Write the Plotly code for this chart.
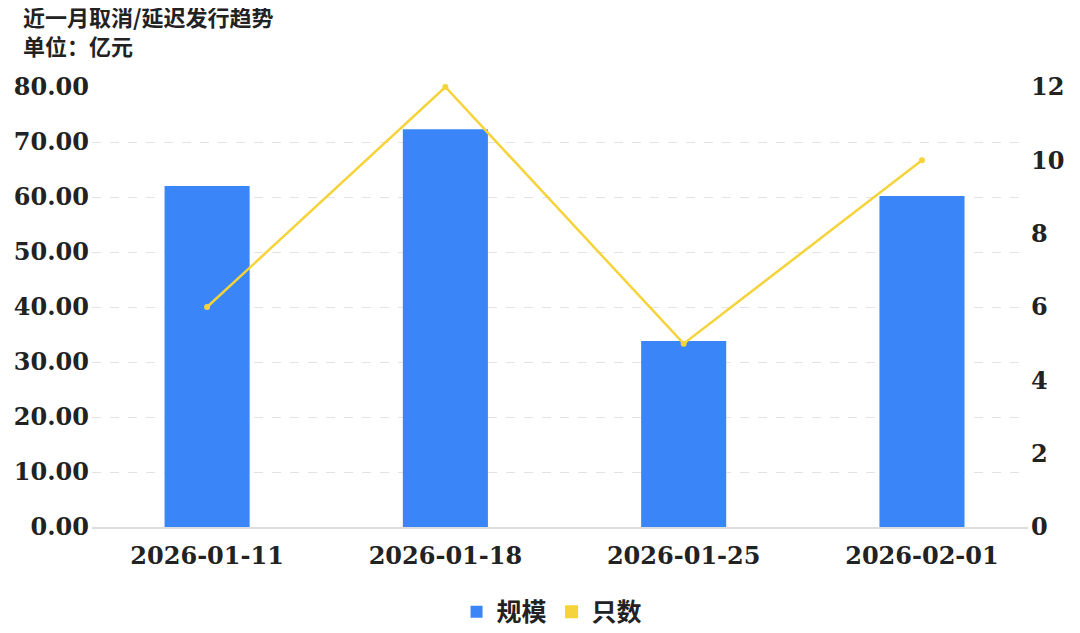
import plotly.graph_objects as go

categories = ["2026-01-11", "2026-01-18", "2026-01-25", "2026-02-01"]
scale_values = [62.0, 72.3, 33.8, 60.2]
count_values = [6, 12, 5, 10]
left_ticks = [0, 10, 20, 30, 40, 50, 60, 70, 80]
right_ticks = [0, 2, 4, 6, 8, 10, 12]

BLUE = "#3a86f8"
YELLOW = "#f5d33a"
SERIF = "DejaVu Serif, Liberation Serif, Noto Sans CJK SC, serif"
CJK = "Noto Sans CJK SC, DejaVu Serif, sans-serif"

fig = go.Figure()
fig.add_trace(go.Bar(x=list(range(len(categories))), y=scale_values, name="规模",
                     marker=dict(color=BLUE, line=dict(width=0)), width=0.357,
                     yaxis="y"))
fig.add_trace(go.Scatter(x=list(range(len(categories))), y=count_values, name="只数",
                         mode="lines+markers", line=dict(color=YELLOW, width=2.5),
                         marker=dict(color=YELLOW, size=6), yaxis="y2", showlegend=False,
                         cliponaxis=False))
fig.add_trace(go.Scatter(x=[None], y=[None], name="只数", mode="markers",
                         marker=dict(color=YELLOW, symbol="square", size=13), yaxis="y2"))

# page body has an 8px offset, margins compensate
fig.update_layout(
    width=1080, height=633,
    margin=dict(l=84, r=60, t=79, b=114, autoexpand=False),
    paper_bgcolor="white", plot_bgcolor="white",
    barmode="overlay",
    annotations=[
        dict(text="<b>近一月取消/延迟发行趋势<br>单位：亿元</b>", xref="paper", yref="paper",
             x=-0.0748, y=1.1795 + 9 / 440, xanchor="left", yanchor="top", align="left",
             showarrow=False, borderpad=0,
             font=dict(family=CJK, size=22, color="#222222")),
    ],
    xaxis=dict(range=[-0.483, 3.445], tickvals=list(range(len(categories))),
               ticktext=categories, showgrid=False, zeroline=False,
               showline=True, linecolor="#dddddd", linewidth=1.5, ticks="",
               tickfont=dict(family=SERIF, size=24, color="#222222", weight="bold"),
               ticklabelstandoff=6),
    yaxis=dict(range=[0, 80], tickvals=left_ticks,
               ticktext=[f"{v:.2f}" for v in left_ticks],
               showgrid=True, gridcolor="#e3e3e3", griddash="dash", gridwidth=1,
               zeroline=False, showline=False, ticks="",
               tickfont=dict(family=SERIF, size=24, color="#222222", weight="bold"),
               ticklabelstandoff=2),
    yaxis2=dict(range=[0, 12], tickvals=right_ticks, overlaying="y", side="right",
                showgrid=False, zeroline=False, showline=False, ticks="",
                tickfont=dict(family=SERIF, size=24, color="#222222", weight="bold"),
                ticklabelstandoff=2),
    legend=dict(orientation="h", x=0.4915, xanchor="center", y=-0.193, yanchor="middle",
                font=dict(family=CJK, size=25, color="#222222", weight="bold"),
                itemwidth=30, tracegroupgap=0),
    showlegend=True,
)

fig.write_html("out.html")
